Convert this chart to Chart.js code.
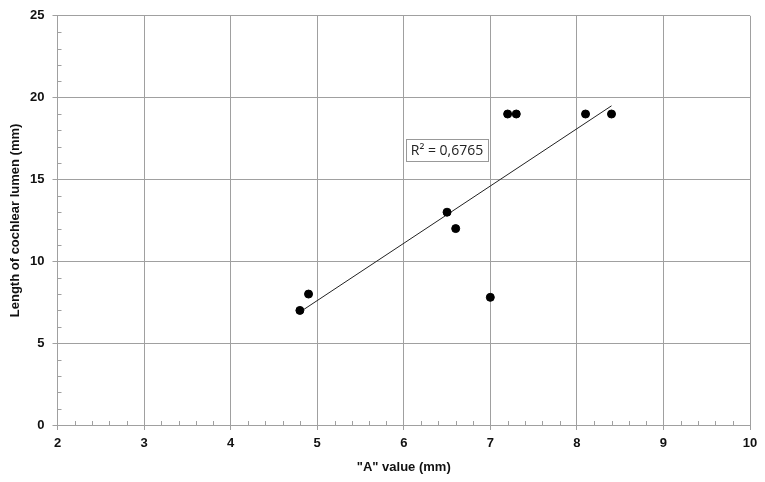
<!DOCTYPE html>
<html>
<head>
<meta charset="utf-8">
<script src="https://cdn.jsdelivr.net/npm/chart.js@4"></script>
<style>
  body { margin: 0; background: #fff; }
  #wrap { width: 765px; height: 482px; }
</style>
</head>
<body>
<div id="wrap"><canvas id="scoreChart" width="765" height="482"></canvas></div>
<script>
'use strict'

// values
var aValues = [4.8, 4.9, 6.5, 6.6, 7.0, 7.2, 7.3, 8.1, 8.4];
var lumenLengths = [7, 8, 13, 12, 7.8, 19, 19, 19, 19];
// linear trendline end points
var trendX = [4.8, 8.4];
var trendY = [6.9, 19.5];
var r2Label = 'R² = 0,6765';
var r2Pos = [6.5, 16.8];

var gridGray = '#a0a0a0';

// small inside ticks like excel minor tick marks
var minorTicks = {
  id: 'minorTicks',
  afterDraw: function(chart) {
    var ctx = chart.ctx;
    var xs = chart.scales.x, ys = chart.scales.y;
    var area = chart.chartArea;
    ctx.save();
    ctx.strokeStyle = gridGray;
    ctx.lineWidth = 1;
    ctx.beginPath();
    for (var i = 0; i <= 40; i++) {
      if (i % 5 === 0) continue;
      var px = Math.round(xs.getPixelForValue(2 + i * 0.2)) + 0.5;
      ctx.moveTo(px, area.bottom);
      ctx.lineTo(px, area.bottom - 4);
    }
    for (var j = 0; j <= 25; j++) {
      if (j % 5 === 0) continue;
      var py = Math.round(ys.getPixelForValue(j)) + 0.5;
      ctx.moveTo(area.left, py);
      ctx.lineTo(area.left + 4, py);
    }
    ctx.stroke();

    // R squared box
    var cx = xs.getPixelForValue(r2Pos[0]);
    var cy = ys.getPixelForValue(r2Pos[1]);
    ctx.font = '14px "Open Sans", "DejaVu Sans", sans-serif';
    var w = ctx.measureText(r2Label).width + 10;
    var h = 22;
    ctx.fillStyle = '#fff';
    ctx.fillRect(Math.round(cx - w / 2) + 0.5, Math.round(cy - h / 2) + 0.5, Math.round(w), h);
    ctx.strokeStyle = '#999';
    ctx.strokeRect(Math.round(cx - w / 2) + 0.5, Math.round(cy - h / 2) + 0.5, Math.round(w), h);
    ctx.fillStyle = '#222';
    ctx.textAlign = 'center';
    ctx.textBaseline = 'middle';
    ctx.fillText(r2Label, cx, cy + 1);
    ctx.restore();
  }
};

function renderChart() {
  var ctx = document.getElementById('scoreChart').getContext('2d');
  var points = aValues.map(function(x, i) { return { x: x, y: lumenLengths[i] }; });
  var trend = trendX.map(function(x, i) { return { x: x, y: trendY[i] }; });
  var tickFont = { family: '"Liberation Sans", Arial, sans-serif', size: 13, weight: 'bold' };
  var titleFont = { family: '"Liberation Sans", Arial, sans-serif', size: 13, weight: 'bold' };

  var chart = new Chart(ctx, {
    type: 'scatter',
    data: {
      datasets: [{
        label: 'Length',
        data: points,
        backgroundColor: '#000',
        borderColor: '#000',
        pointRadius: 4,
        pointHoverRadius: 4
      }, {
        type: 'line',
        label: 'Trend',
        data: trend,
        borderColor: '#222',
        borderWidth: 1,
        pointRadius: 0,
        fill: false
      }]
    },
    options: {
      responsive: false,
      animation: false,
      layout: { padding: { left: 0, right: 15, top: 15, bottom: 0 } },
      plugins: { legend: { display: false }, tooltip: { enabled: false } },
      scales: {
        x: {
          type: 'linear',
          min: 2, max: 10,
          afterFit: function(s) { s.height = 57; },
          ticks: { stepSize: 1, color: '#111', font: tickFont, padding: 6 },
          grid: { color: gridGray, lineWidth: 1, tickLength: 5, tickColor: gridGray },
          border: { color: gridGray, width: 1 },
          title: { display: true, text: '"A" value (mm)', color: '#111', font: titleFont, padding: { top: 4, bottom: 7 } }
        },
        y: {
          min: 0, max: 25,
          afterFit: function(s) { s.width = 57.5; },
          ticks: { stepSize: 5, color: '#111', font: tickFont, padding: 8 },
          grid: { color: gridGray, lineWidth: 1, tickLength: 5, tickColor: gridGray },
          border: { color: gridGray, width: 1 },
          title: { display: true, text: 'Length of cochlear lumen (mm)', color: '#111', font: titleFont, padding: { top: 8, bottom: 0 } }
        }
      }
    },
    plugins: [minorTicks]
  });
}

renderChart();
</script>
</body>
</html>
